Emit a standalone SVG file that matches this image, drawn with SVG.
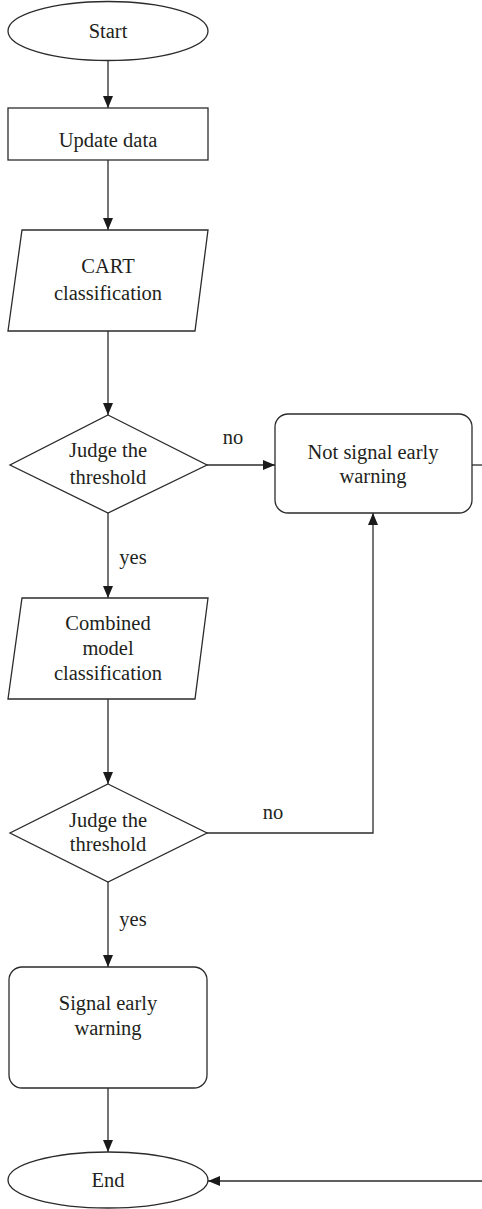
<svg xmlns="http://www.w3.org/2000/svg" width="482" height="1209" viewBox="0 0 482 1209">
  <style>
    .shape { fill: #ffffff; stroke: #2b2b2b; stroke-width: 1.3; }
    .edge { fill: none; stroke: #2b2b2b; stroke-width: 1.3; }
    .label { font-family: "Liberation Serif", "DejaVu Serif", serif; font-size: 20.5px; fill: #231f20; text-anchor: middle; }
  </style>
  <defs>
    <marker id="arrow" markerUnits="userSpaceOnUse" markerWidth="12" markerHeight="12" viewBox="0 0 12 12" refX="12" refY="6" orient="auto">
      <path d="M0,1 L12,6 L0,11 Z" fill="#1a1a1a"/>
    </marker>
  </defs>
  <rect width="482" height="1209" fill="#ffffff"/>

  <!-- connectors -->
  <g id="connectors">
    <line class="edge" x1="108" y1="61" x2="108" y2="108" marker-end="url(#arrow)"/>
    <line class="edge" x1="108" y1="160" x2="108" y2="230" marker-end="url(#arrow)"/>
    <line class="edge" x1="108" y1="331" x2="108" y2="415" marker-end="url(#arrow)"/>
    <line class="edge" x1="207" y1="465" x2="275" y2="465" marker-end="url(#arrow)"/>
    <text class="label" x="233" y="444">no</text>
    <line class="edge" x1="472" y1="465" x2="482" y2="465"/>
    <line class="edge" x1="108" y1="513" x2="108" y2="598" marker-end="url(#arrow)"/>
    <text class="label" x="133" y="564">yes</text>
    <line class="edge" x1="108" y1="699" x2="108" y2="784" marker-end="url(#arrow)"/>
    <polyline class="edge" points="207,833 373,833 373,513" marker-end="url(#arrow)"/>
    <text class="label" x="273" y="819">no</text>
    <line class="edge" x1="108" y1="882" x2="108" y2="967" marker-end="url(#arrow)"/>
    <text class="label" x="133" y="926">yes</text>
    <line class="edge" x1="108" y1="1088" x2="108" y2="1152" marker-end="url(#arrow)"/>
    <line class="edge" x1="482" y1="1181" x2="208" y2="1181" marker-end="url(#arrow)"/>
  </g>

  <!-- nodes -->
  <g id="start">
    <ellipse class="shape" cx="108" cy="31" rx="100" ry="29.5"/>
    <text class="label" x="108" y="38">Start</text>
  </g>
  <g id="update-data">
    <rect class="shape" x="8" y="108" width="200" height="52"/>
    <text class="label" x="108" y="147">Update data</text>
  </g>
  <g id="cart-classification">
    <polygon class="shape" points="22,230 208,230 195,331 8,331"/>
    <text class="label" x="108" y="273">CART</text>
    <text class="label" x="108" y="300">classification</text>
  </g>
  <g id="judge-1">
    <polygon class="shape" points="108,415 207,465 108,513 10,465"/>
    <text class="label" x="108" y="457">Judge the</text>
    <text class="label" x="108" y="484">threshold</text>
  </g>
  <g id="not-signal">
    <rect class="shape" x="275" y="414" width="197" height="99" rx="13" ry="13"/>
    <text class="label" x="373" y="459">Not signal early</text>
    <text class="label" x="373" y="483">warning</text>
  </g>
  <g id="combined-classification">
    <polygon class="shape" points="22,598 208,598 195,699 8,699"/>
    <text class="label" x="108" y="630">Combined</text>
    <text class="label" x="108" y="655">model</text>
    <text class="label" x="108" y="680">classification</text>
  </g>
  <g id="judge-2">
    <polygon class="shape" points="108,784 207,833 108,882 10,833"/>
    <text class="label" x="108" y="827">Judge the</text>
    <text class="label" x="108" y="851">threshold</text>
  </g>
  <g id="signal">
    <rect class="shape" x="9" y="967" width="198" height="121" rx="13" ry="13"/>
    <text class="label" x="108" y="1010">Signal early</text>
    <text class="label" x="108" y="1035">warning</text>
  </g>
  <g id="end">
    <ellipse class="shape" cx="108" cy="1180" rx="100" ry="28"/>
    <text class="label" x="108" y="1187">End</text>
  </g>
</svg>
